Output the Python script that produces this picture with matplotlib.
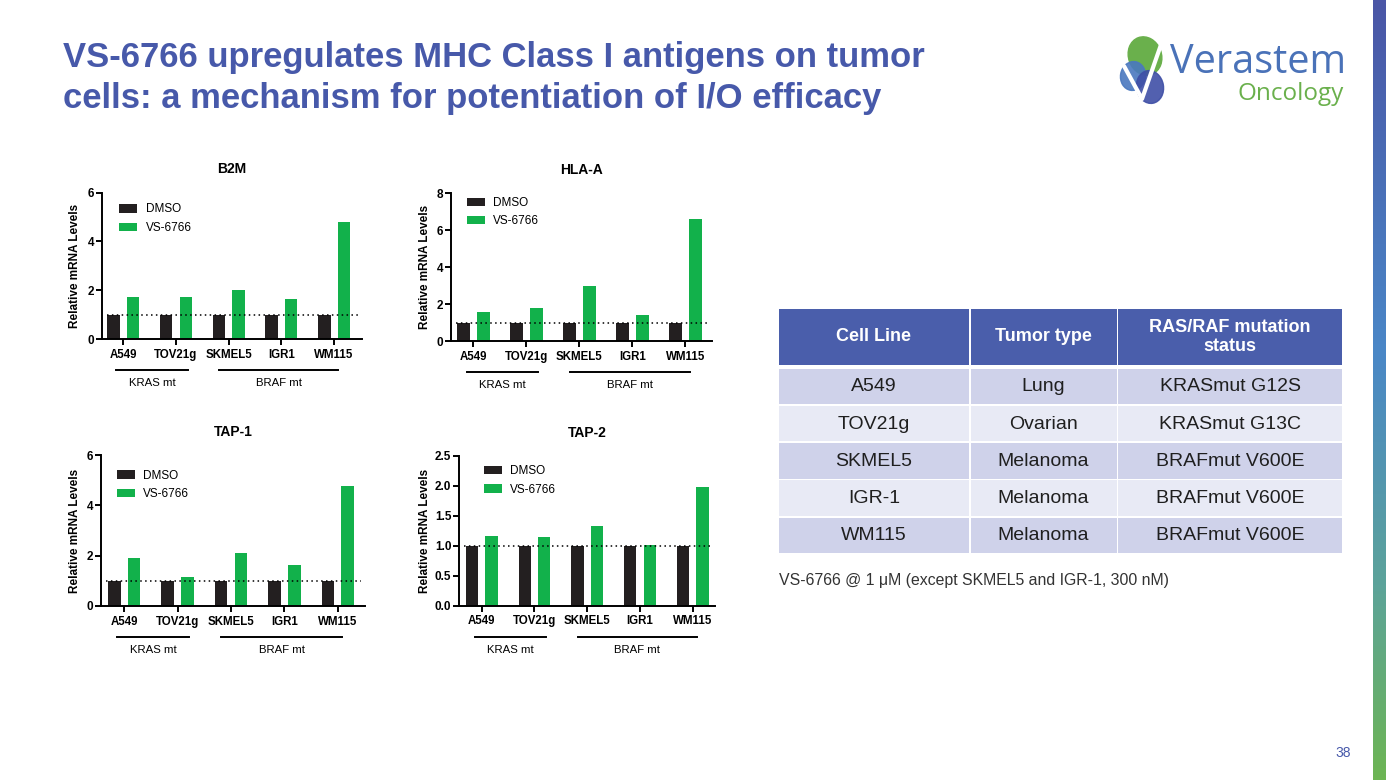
import matplotlib
matplotlib.use("Agg")
import matplotlib.pyplot as plt
import numpy as np
from matplotlib import transforms
from matplotlib.patches import Rectangle, Ellipse
from matplotlib.colors import LinearSegmentedColormap

plt.rcParams['font.family'] = ['Liberation Sans', 'DejaVu Sans']

# ---- data ----
cell_lines = ["A549", "TOV21g", "SKMEL5", "IGR1", "WM115"]
series = ["DMSO", "VS-6766"]
groups = ["KRAS mt", "BRAF mt"]

b2m_dmso = [1, 1, 1, 1, 1]
b2m_vs = [1.73, 1.72, 2.01, 1.64, 4.80]
hla_dmso = [1, 1, 1, 1, 1]
hla_vs = [1.57, 1.79, 2.96, 1.41, 6.62]
tap1_dmso = [1, 1, 1, 1, 1]
tap1_vs = [1.90, 1.14, 2.10, 1.63, 4.76]
tap2_dmso = [1, 1, 1, 1, 1]
tap2_vs = [1.16, 1.14, 1.33, 1.02, 1.99]

table_header = ["Cell Line", "Tumor type", "RAS/RAF mutation\nstatus"]
table_cell_lines = ["A549", "TOV21g", "SKMEL5", "IGR-1", "WM115"]
table_tumor = ["Lung", "Ovarian", "Melanoma", "Melanoma", "Melanoma"]
table_mutation = ["KRASmut G12S", "KRASmut G13C", "BRAFmut V600E",
                  "BRAFmut V600E", "BRAFmut V600E"]

title_lines = ["VS-6766 upregulates MHC Class I antigens on tumor",
               "cells: a mechanism for potentiation of I/O efficacy"]
note = "VS-6766 @ 1 \u03bcM (except SKMEL5 and IGR-1, 300 nM)"

# ---- style ----
W, H = 1386, 780
C_DMSO = "#231f20"
C_VS = "#12b14b"
C_BLUE = "#4759aa"
TXT = "#1f1f1f"

fig = plt.figure(figsize=(W / 100, H / 100), dpi=100)

# background / decoration layer in pixel coordinates
bg = fig.add_axes([0, 0, 1, 1], zorder=0)
bg.axis("off")

# right gradient strip
cmap = LinearSegmentedColormap.from_list(
    "strip", [(0, "#4b56a6"), (0.45, "#4a87c7"), (0.75, "#5ca39a"), (1, "#6db553")])
bg.imshow(np.linspace(0, 1, 256).reshape(-1, 1), cmap=cmap, aspect="auto",
          extent=[1373, W, H, 0], zorder=1)
bg.set_xlim(0, W)
bg.set_ylim(H, 0)

# title
bg.text(63, 66.5, title_lines[0], fontsize=24.9, fontweight="bold", color=C_BLUE, va="baseline")
bg.text(63, 108, title_lines[1], fontsize=24.9, fontweight="bold", color=C_BLUE, va="baseline")

# logo
bg.add_patch(Ellipse((1145, 56), 33, 39, angle=-20, color="#6ab04c", zorder=2))
bg.add_patch(Ellipse((1133, 76), 25, 29, angle=10, color="#4a78bf", alpha=0.9, zorder=3))
bg.add_patch(Ellipse((1150, 87), 27, 33, angle=-10, color="#3f4fa6", alpha=0.9, zorder=3))
bg.plot([1124, 1142, 1163], [66, 99, 39], color="white", lw=3, solid_capstyle="round", zorder=4)
bg.text(1346, 73, "Verastem", fontsize=28.5, family="Open Sans", color="#4a72b8",
        ha="right", va="baseline")
bg.text(1344, 100, "Oncology", fontsize=17.5, family="Open Sans", color="#6ab04c",
        ha="right", va="baseline")

# page number
bg.text(1343, 753, "38", fontsize=10, color=C_BLUE, ha="center", va="center")

# table
col_edges = [(779, 969), (970.5, 1116.5), (1118, 1342)]
head_top, head_bot = 309, 364.5
row_top0, row_h, row_step = 368.5, 35.5, 37.3
for (x0, x1), label in zip(col_edges, table_header):
    bg.add_patch(Rectangle((x0, head_top), x1 - x0, head_bot - head_top,
                           color="#4a5eab", lw=0, zorder=2))
    bg.text((x0 + x1) / 2, (head_top + head_bot) / 2, label, fontsize=13,
            fontweight="bold", color="white", ha="center", va="center",
            linespacing=1.15, zorder=3)
rows = list(zip(table_cell_lines, table_tumor, table_mutation))
for i, row in enumerate(rows):
    y0 = row_top0 + i * row_step
    fc = "#cfd2ea" if i % 2 == 0 else "#e8eaf5"
    for (x0, x1), val in zip(col_edges, row):
        bg.add_patch(Rectangle((x0, y0), x1 - x0, row_h, color=fc, lw=0, zorder=2))
        bg.text((x0 + x1) / 2, y0 + row_h / 2 + 0.5, val, fontsize=14, color=TXT,
                ha="center", va="center", zorder=3)

bg.text(779, 581, note, fontsize=11.4, color="#333333", ha="left", va="center")

# ---- bar panels ----
panels = [
    dict(name="B2M", dmso=b2m_dmso, vs=b2m_vs, box=(101.7, 192.7, 362, 339),
         ymax=6, yticks=[0, 2, 4, 6], xlim=(-0.41, 4.53), leg=(17.6, 10.8), ylab=27, fmt="{:.0f}"),
    dict(name="HLA-A", dmso=hla_dmso, vs=hla_vs, box=(450.7, 193.3, 712, 341),
         ymax=8, yticks=[0, 2, 4, 6, 8], xlim=(-0.43, 4.50), leg=(16.3, 3.5), ylab=26, fmt="{:.0f}"),
    dict(name="TAP-1", dmso=tap1_dmso, vs=tap1_vs, box=(100.7, 455, 365, 606),
         ymax=6, yticks=[0, 2, 4, 6], xlim=(-0.44, 4.51), leg=(16.3, 14.5), ylab=26, fmt="{:.0f}"),
    dict(name="TAP-2", dmso=tap2_dmso, vs=tap2_vs, box=(459, 456, 715, 605.7),
         ymax=2.5, yticks=[0, 0.5, 1.0, 1.5, 2.0, 2.5], xlim=(-0.43, 4.42), leg=(25, 9.2), ylab=34,
         fmt="{:.1f}"),
]
group_spans = [(-0.13, 1.22), (1.82, 4.08)]
off = 0.185
bw = 0.235
x = np.arange(len(cell_lines))

for p in panels:
    x0, yt, x1, yb = p["box"]
    wpx, hpx = x1 - x0, yb - yt
    ax = fig.add_axes([x0 / W, 1 - yb / H, wpx / W, hpx / H], zorder=2)
    ax.patch.set_alpha(0)
    b1 = ax.bar(x - off, p["dmso"], bw, color=C_DMSO, label=series[0])
    b2 = ax.bar(x + off, p["vs"], bw, color=C_VS, label=series[1])
    ax.axhline(1, xmin=0.02, xmax=0.985, color="black", lw=1.1, ls=(0, (1, 2.2)), zorder=3)
    ax.set_xlim(*p["xlim"])
    ax.set_ylim(0, p["ymax"])
    ax.set_yticks(p["yticks"])
    ax.set_yticklabels([p["fmt"].format(v) for v in p["yticks"]], fontsize=8.5, fontweight="bold")
    ax.set_xticks(x)
    ax.set_xticklabels(cell_lines, fontsize=8.3, fontweight="bold")
    for s in ["top", "right"]:
        ax.spines[s].set_visible(False)
    for s in ["left", "bottom"]:
        ax.spines[s].set_linewidth(1.4)
    ax.tick_params(direction="out", length=4, width=1.4, pad=1.5)
    ax.tick_params(axis="x", pad=3)
    ax.set_title(p["name"], fontsize=10, fontweight="bold", pad=14)
    ax.set_ylabel("Relative mRNA Levels", fontsize=8.5, fontweight="bold", va="center")
    ax.yaxis.set_label_coords(-p["ylab"] / wpx, 0.5)

    lx, ly = p["leg"]
    ax.legend(handles=[b1, b2], loc="upper left", bbox_to_anchor=(lx / wpx, 1 - ly / hpx),
              frameon=False, borderpad=0, borderaxespad=0, handlelength=1.5,
              handleheight=0.7, handletextpad=0.72, labelspacing=0.55, fontsize=8.5)

    tline = transforms.offset_copy(ax.get_xaxis_transform(), fig=fig, y=-31, units="dots")
    ttext = transforms.offset_copy(ax.get_xaxis_transform(), fig=fig, y=-44, units="dots")
    for (g0, g1), g in zip(group_spans, groups):
        ax.plot([g0, g1], [0, 0], color="black", lw=1.4, transform=tline, clip_on=False)
        ax.text((g0 + g1) / 2, 0, g, fontsize=8.2, ha="center", va="center", transform=ttext)

fig.savefig("out.png", dpi=100)
